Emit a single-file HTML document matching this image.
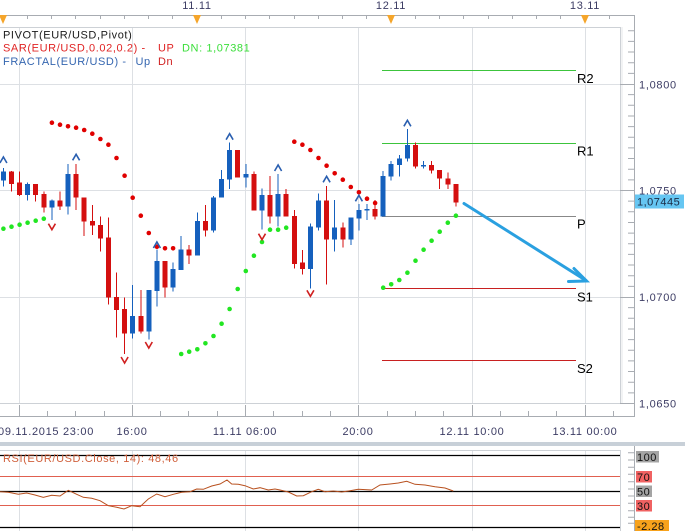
<!DOCTYPE html>
<html><head><meta charset="utf-8"><style>
html,body{margin:0;padding:0;background:#fff;}
svg{display:block;font-family:"Liberation Sans",Arial,sans-serif;}
</style></head><body>
<svg width="685" height="531" viewBox="0 0 685 531" xmlns="http://www.w3.org/2000/svg">
<rect width="685" height="531" fill="#fff"/>
<!-- top axis -->
<path d="M0 15.5H634" stroke="#a8acb2" stroke-width="1"/>
<path stroke="#a8acb2" stroke-width="1" d="M27.5 15V19M51.5 15V19M75.5 15V19M100.5 15V19M124.5 15V19M148.5 15V19M172.5 15V19M221.5 15V19M245.5 15V19M269.5 15V19M294.5 15V19M318.5 15V19M342.5 15V19M366.5 15V19M415.5 15V19M439.5 15V19M463.5 15V19M488.5 15V19M512.5 15V19M536.5 15V19M560.5 15V19M609.5 15V19"/>
<g fill="#f5a52a"><polygon points="-1,15 7,15 3,24"/><polygon points="193,15 201,15 197,24"/><polygon points="387,15 395,15 391,24"/><polygon points="581,15 589,15 585,24"/></g>
<g fill="#3c3c64" font-size="11" letter-spacing="0.7" text-anchor="middle"><text x="197" y="9">11.11</text><text x="391" y="9">12.11</text><text x="585" y="9">13.11</text></g>
<!-- main plot frame & grid -->
<g stroke="#dde0e4" stroke-width="1">
<path d="M19.5 27V404M132.5 27V404M245.5 27V404M358.5 27V404M472.5 27V404M585.5 27V404"/>
<path d="M0 84.5H620M0 190.5H620M0 297.5H620"/>
</g>
<path d="M0 27.5H620.5V403.5H0" fill="none" stroke="#cdd1d6" stroke-width="1"/>
<path d="M622 27V404" stroke="#e4e7ea" stroke-width="1"/>
<!-- right axis -->
<path d="M634.5 15V417" stroke="#a8acb2"/>
<path stroke="#a8acb2" d="M628 30.75H634M628 41.4H634M628 52.05H634M628 62.7H634M628 73.35H634M620 84.5H634M628 94.65H634M628 105.3H634M628 115.95H634M628 126.6H634M628 137.25H634M628 147.9H634M628 158.55H634M628 169.2H634M628 179.85H634M620 190.5H634M628 201.15H634M628 211.8H634M628 222.45H634M628 233.1H634M628 243.75H634M628 254.4H634M628 265.05H634M628 275.7H634M628 286.35H634M620 297.5H634M628 307.65H634M628 318.3H634M628 328.95H634M628 339.6H634M628 350.25H634M628 360.9H634M628 371.55H634M628 382.2H634M628 392.85H634M620 403.5H634"/>
<g fill="#3c3c64" font-size="11" letter-spacing="0.7">
<text x="639" y="88.5">1,0800</text><text x="639" y="194.5">1,0750</text><text x="639" y="301">1,0700</text><text x="639" y="407.5">1,0650</text>
</g>
<rect x="635" y="194.5" width="49" height="14" fill="#66c6f2"/>
<text x="637" y="205.5" font-size="11" letter-spacing="0.5" fill="#1a2a44">1,07445</text>
<!-- bottom axis -->
<path d="M0 416.5H634" stroke="#a8acb2"/>
<path stroke="#a8acb2" d="M19.5 405V417M132.5 405V417M245.5 405V417M358.5 405V417M472.5 405V417M585.5 405V417M47.5 411V417M75.5 411V417M104.5 411V417M160.5 411V417M188.5 411V417M217.5 411V417M273.5 411V417M302.5 411V417M330.5 411V417M387.5 411V417M415.5 411V417M443.5 411V417M500.5 411V417M528.5 411V417M556.5 411V417M613.5 411V417"/>
<g fill="#3c3c64" font-size="11" letter-spacing="0.7">
<text x="-2" y="435">09.11.2015 23:00</text>
<g text-anchor="middle"><text x="132" y="435">16:00</text><text x="245" y="435">11.11 06:00</text><text x="358" y="435">20:00</text><text x="472" y="435">12.11 10:00</text><text x="585" y="435">13.11 00:00</text></g>
</g>
<rect x="0" y="442" width="685" height="4" fill="#c8d0d8"/>
<!-- pivot lines -->
<g stroke-width="1">
<path d="M382 70.5H576M382 143.5H576" stroke="#3cc43c"/>
<path d="M382 216.5H576" stroke="#888"/>
<path d="M382 288.5H576M382 360.5H576" stroke="#c82020"/>
</g>
<g fill="#000" font-size="13"><text x="577" y="83">R2</text><text x="577" y="155.5">R1</text><text x="577" y="228.5">P</text><text x="577" y="301.5">S1</text><text x="577" y="373">S2</text></g>
<!-- candles -->
<g fill="#1560bd" shape-rendering="crispEdges">
<rect x="2.9" y="168" width="1" height="18.7"/><rect x="0.9" y="171.7" width="5" height="9"/>
<rect x="27.1" y="182.7" width="1" height="18"/><rect x="25.1" y="184" width="5" height="11"/>
<rect x="51.4" y="199.3" width="1" height="20.7"/><rect x="49.4" y="200.7" width="5" height="7"/>
<rect x="67.5" y="164" width="1" height="50.3"/><rect x="65.5" y="174" width="5" height="32.7"/>
<rect x="132.2" y="285" width="1" height="53.7"/><rect x="130.2" y="316" width="5" height="17.7"/>
<rect x="148.3" y="290" width="1" height="49.3"/><rect x="146.3" y="290" width="5" height="41.7"/>
<rect x="156.4" y="249.3" width="1" height="57.4"/><rect x="154.4" y="261" width="5" height="30"/>
<rect x="172.6" y="262.7" width="1" height="29"/><rect x="170.6" y="269" width="5" height="18.7"/>
<rect x="180.7" y="236" width="1" height="34"/><rect x="178.7" y="249.3" width="5" height="20.7"/>
<rect x="196.8" y="212.7" width="1" height="43"/><rect x="194.8" y="221" width="5" height="34.7"/>
<rect x="213" y="196" width="1" height="36.7"/><rect x="211" y="197.3" width="5" height="33.4"/>
<rect x="221.1" y="170" width="1" height="27.3"/><rect x="219.1" y="179" width="5" height="18.3"/>
<rect x="229.1" y="142.7" width="1" height="46.3"/><rect x="227.1" y="150" width="5" height="29.3"/>
<rect x="245.3" y="164" width="1" height="23.3"/><rect x="243.3" y="174" width="5" height="3.7"/>
<rect x="261.5" y="188.3" width="1" height="41"/><rect x="259.5" y="195" width="5" height="15.7"/>
<rect x="277.6" y="174" width="1" height="52.7"/><rect x="275.6" y="194" width="5" height="22.7"/>
<rect x="309.9" y="223.3" width="1" height="65"/><rect x="307.9" y="226.7" width="5" height="42.3"/>
<rect x="318" y="193.3" width="1" height="37.4"/><rect x="316" y="200.7" width="5" height="26.6"/>
<rect x="334.2" y="200" width="1" height="51.7"/><rect x="332.2" y="227.7" width="5" height="11.6"/>
<rect x="350.3" y="217.7" width="1" height="27.3"/><rect x="348.3" y="217.7" width="5" height="21.6"/>
<rect x="358.4" y="204" width="1" height="26.7"/><rect x="356.4" y="210" width="5" height="8.3"/>
<rect x="366.5" y="204" width="1" height="16"/><rect x="364.5" y="209" width="5" height="1.7"/>
<rect x="382.7" y="171" width="1" height="45.7"/><rect x="380.7" y="176" width="5" height="40.7"/>
<rect x="390.7" y="161" width="1" height="19.7"/><rect x="388.7" y="164" width="5" height="12.7"/>
<rect x="398.8" y="155" width="1" height="21.7"/><rect x="396.8" y="158.3" width="5" height="6.7"/>
<rect x="406.9" y="129" width="1" height="32.7"/><rect x="404.9" y="145" width="5" height="13.3"/>
<rect x="423.1" y="161" width="1" height="7.3"/><rect x="421.1" y="165" width="5" height="1.7"/>
</g>
<g fill="#d40f0f" shape-rendering="crispEdges">
<rect x="11" y="171" width="1" height="20.7"/><rect x="9" y="171.7" width="5" height="12.3"/>
<rect x="19.1" y="171.7" width="1" height="24.3"/><rect x="17.1" y="182.7" width="5" height="12.3"/>
<rect x="35.2" y="184" width="1" height="17.7"/><rect x="33.2" y="184" width="5" height="11"/>
<rect x="43.3" y="191.7" width="1" height="21"/><rect x="41.3" y="194" width="5" height="13.7"/>
<rect x="59.5" y="191.7" width="1" height="18.3"/><rect x="57.5" y="200.7" width="5" height="6"/>
<rect x="75.6" y="164" width="1" height="46"/><rect x="73.6" y="174" width="5" height="23.7"/>
<rect x="83.7" y="197.3" width="1" height="38.7"/><rect x="81.7" y="197.3" width="5" height="24.4"/>
<rect x="91.8" y="205" width="1" height="30"/><rect x="89.8" y="221" width="5" height="4.7"/>
<rect x="99.9" y="216.7" width="1" height="35"/><rect x="97.9" y="225" width="5" height="13.3"/>
<rect x="107.9" y="217.3" width="1" height="87"/><rect x="105.9" y="237.7" width="5" height="60"/>
<rect x="116" y="272.7" width="1" height="65"/><rect x="114" y="297" width="5" height="13"/>
<rect x="124.1" y="297.7" width="1" height="56.3"/><rect x="122.1" y="309" width="5" height="24.7"/>
<rect x="140.3" y="290" width="1" height="43.3"/><rect x="138.3" y="316" width="5" height="15.7"/>
<rect x="164.5" y="261" width="1" height="36.7"/><rect x="162.5" y="261" width="5" height="26.7"/>
<rect x="188.7" y="245" width="1" height="19"/><rect x="186.7" y="249.3" width="5" height="6.4"/>
<rect x="204.9" y="205" width="1" height="31.7"/><rect x="202.9" y="221" width="5" height="9.7"/>
<rect x="237.2" y="150" width="1" height="27.7"/><rect x="235.2" y="150" width="5" height="27.7"/>
<rect x="253.4" y="171.7" width="1" height="39"/><rect x="251.4" y="174" width="5" height="36.7"/>
<rect x="269.5" y="176" width="1" height="47.3"/><rect x="267.5" y="195" width="5" height="21.7"/>
<rect x="285.7" y="189" width="1" height="27.7"/><rect x="283.7" y="194" width="5" height="22.7"/>
<rect x="293.8" y="210" width="1" height="58.3"/><rect x="291.8" y="216" width="5" height="48"/>
<rect x="301.9" y="250" width="1" height="24.3"/><rect x="299.9" y="262.7" width="5" height="6.3"/>
<rect x="326.1" y="186" width="1" height="98.3"/><rect x="324.1" y="200.7" width="5" height="38.6"/>
<rect x="342.3" y="222.3" width="1" height="25"/><rect x="340.3" y="227.7" width="5" height="11.6"/>
<rect x="374.6" y="200" width="1" height="19.3"/><rect x="372.6" y="209" width="5" height="7.7"/>
<rect x="415" y="142.7" width="1" height="25.6"/><rect x="413" y="145" width="5" height="21.7"/>
<rect x="431.1" y="161" width="1" height="12.3"/><rect x="429.1" y="165" width="5" height="5.7"/>
<rect x="439.2" y="170" width="1" height="19"/><rect x="437.2" y="170" width="5" height="8.3"/>
<rect x="447.3" y="172.3" width="1" height="16.7"/><rect x="445.3" y="178.3" width="5" height="6.4"/>
<rect x="455.4" y="184" width="1" height="22.7"/><rect x="453.4" y="184" width="5" height="18.7"/>
</g>
<!-- SAR -->
<g fill="#e00000">
<circle cx="51.9" cy="122.7" r="2.3"/><circle cx="60" cy="124.7" r="2.3"/><circle cx="68" cy="126.3" r="2.3"/><circle cx="76.1" cy="127.7" r="2.3"/><circle cx="84.2" cy="130" r="2.3"/><circle cx="92.3" cy="133.7" r="2.3"/><circle cx="100.4" cy="139" r="2.3"/><circle cx="108.4" cy="144.7" r="2.3"/><circle cx="116.5" cy="158" r="2.3"/><circle cx="124.6" cy="175.7" r="2.3"/><circle cx="132.7" cy="197.7" r="2.3"/><circle cx="140.8" cy="215.7" r="2.3"/><circle cx="148.8" cy="233" r="2.3"/><circle cx="156.9" cy="246.7" r="2.3"/><circle cx="165" cy="248.3" r="2.3"/><circle cx="173.1" cy="248.3" r="2.3"/>
<circle cx="294.3" cy="141.7" r="2.3"/><circle cx="302.4" cy="144.7" r="2.3"/><circle cx="310.4" cy="150" r="2.3"/><circle cx="318.5" cy="158" r="2.3"/><circle cx="326.6" cy="165.7" r="2.3"/><circle cx="334.7" cy="173.3" r="2.3"/><circle cx="342.8" cy="179.7" r="2.3"/><circle cx="350.8" cy="187" r="2.3"/><circle cx="358.9" cy="192.3" r="2.3"/><circle cx="367" cy="198.7" r="2.3"/><circle cx="375.1" cy="203" r="2.3"/>
</g>
<g fill="#22e622">
<circle cx="3.4" cy="228.7" r="2.3"/><circle cx="11.5" cy="226.7" r="2.3"/><circle cx="19.6" cy="224.7" r="2.3"/><circle cx="27.6" cy="222.7" r="2.3"/><circle cx="35.7" cy="220.7" r="2.3"/><circle cx="43.8" cy="218.7" r="2.3"/>
<circle cx="181.2" cy="354" r="2.3"/><circle cx="189.2" cy="351.7" r="2.3"/><circle cx="197.3" cy="349.3" r="2.3"/><circle cx="205.4" cy="343.3" r="2.3"/><circle cx="213.5" cy="336" r="2.3"/><circle cx="221.6" cy="323.7" r="2.3"/><circle cx="229.6" cy="309" r="2.3"/><circle cx="237.7" cy="289" r="2.3"/><circle cx="245.8" cy="271" r="2.3"/><circle cx="253.9" cy="255.7" r="2.3"/><circle cx="262" cy="242" r="2.3"/><circle cx="270" cy="229.7" r="2.3"/><circle cx="278.1" cy="229.7" r="2.3"/><circle cx="286.2" cy="227.7" r="2.3"/>
<circle cx="383.2" cy="287.7" r="2.3"/><circle cx="391.2" cy="284.3" r="2.3"/><circle cx="399.3" cy="280" r="2.3"/><circle cx="407.4" cy="272.7" r="2.3"/><circle cx="415.5" cy="260.7" r="2.3"/><circle cx="423.6" cy="249.7" r="2.3"/><circle cx="431.6" cy="240.7" r="2.3"/><circle cx="439.7" cy="231.7" r="2.3"/><circle cx="447.8" cy="222.7" r="2.3"/><circle cx="455.9" cy="215.7" r="2.3"/>
</g>
<!-- fractals -->
<g fill="none" stroke-width="1.6">
<g stroke="#2a5fb0">
<path transform="translate(3.4,160)" d="M-3.5 3L0 -3L3.5 3"/>
<path transform="translate(76.1,157.3)" d="M-3.5 3L0 -3L3.5 3"/>
<path transform="translate(156.9,245)" d="M-3.5 3L0 -3L3.5 3"/>
<path transform="translate(229.6,136.7)" d="M-3.5 3L0 -3L3.5 3"/>
<path transform="translate(278.1,168)" d="M-3.5 3L0 -3L3.5 3"/>
<path transform="translate(326.6,179.3)" d="M-3.5 3L0 -3L3.5 3"/>
<path transform="translate(358.9,198.3)" d="M-3.5 3L0 -3L3.5 3"/>
<path transform="translate(407.4,123.3)" d="M-3.5 3L0 -3L3.5 3"/>
</g>
<g stroke="#d02020">
<path transform="translate(51.9,226.7)" d="M-3.5 -3L0 3L3.5 -3"/>
<path transform="translate(124.6,360)" d="M-3.5 -3L0 3L3.5 -3"/>
<path transform="translate(148.8,345)" d="M-3.5 -3L0 3L3.5 -3"/>
<path transform="translate(262,236.7)" d="M-3.5 -3L0 3L3.5 -3"/>
<path transform="translate(310.4,293.3)" d="M-3.5 -3L0 3L3.5 -3"/>
</g>
</g>
<!-- arrow -->
<g stroke="#2aa0e0" stroke-width="3" stroke-linecap="round" fill="none">
<path d="M464 203.5L586 280.5"/>
<path d="M574 268.5L586.5 281L568.5 281.5"/>
</g>
<!-- legend -->
<g font-size="11" letter-spacing="0.6">
<text x="3" y="38.3" fill="#1a1a1a">PIVOT(EUR/USD,Pivot)</text>
<text x="3" y="51.7" fill="#e02424">SAR(EUR/USD,0.02,0.2) -</text>
<text x="158" y="51.7" fill="#e02424">UP</text>
<text x="182" y="51.7" fill="#3ade3a">DN: 1,07381</text>
<text x="3" y="65" fill="#3566b0">FRACTAL(EUR/USD) -</text>
<text x="135.5" y="65" fill="#3566b0">Up</text>
<text x="158" y="65" fill="#d02020">Dn</text>
</g>
<!-- RSI panel -->
<g stroke="#dde0e4"><path d="M19.5 450V531M132.5 450V531M245.5 450V531M358.5 450V531M472.5 450V531M585.5 450V531"/></g>
<path d="M0 450.5H620.5V531" fill="none" stroke="#cdd1d6"/>
<path d="M0 455.5H620M0 491.5H620M0 527.5H620" stroke="#000" stroke-width="1.3"/>
<path d="M0 476.5H620M0 505.5H620" stroke="#e06050" stroke-width="1"/>
<path d="M634.5 446V531" stroke="#a8acb2"/>
<path stroke="#a8acb2" d="M628 452.7H634M628 460H634M628 467.3H634M628 474.3H634M628 481.7H634M628 489H634M628 496H634M628 503.3H634M628 510.7H634M628 517.3H634M628 523.3H634"/>
<polyline fill="none" stroke="#b8501e" stroke-width="1" points="0,491.7 8.3,492.3 18.3,494.3 26.7,493 35,495 43.3,497.3 51.7,495.3 60,496 68.3,490.3 76.7,494.3 83.3,497.3 91.7,498.3 100,500.7 108.3,505.7 116.7,507.3 124,509 131.7,505.7 140,506.7 148.3,499 156.7,494 165,496.7 173.3,494.3 181.7,492.3 190,491.7 196.7,489 203.3,489.3 211.7,486 220,484 227,480 231.7,484 238.3,484.3 245,485.7 253.3,489 260,487.7 268.3,490 275,489 280,490 288.3,492 296.7,496 303.3,495.7 311.7,491.7 318.3,489.3 325,491.7 333.3,491 341.7,492 350,490.7 358.3,489.3 371.7,490 380,485 390,484 398.3,483 406.7,481.3 415,484.3 425,485 435,486.7 445,488 453.3,491"/>
<text x="3" y="462" font-size="11" letter-spacing="0.6" fill="#d0603c">RSI(EUR/USD.Close, 14): 48,46</text>
<rect x="636" y="451" width="23" height="11.5" fill="#a4a4a4"/>
<rect x="636" y="471" width="16" height="11.5" fill="#f06262"/>
<rect x="636" y="485.5" width="16" height="11.5" fill="#a4a4a4"/>
<rect x="636" y="500" width="16" height="11.5" fill="#f06262"/>
<rect x="635" y="520" width="34" height="11" fill="#f7a21c"/>
<g font-size="11" letter-spacing="0.5" fill="#111">
<text x="637" y="461">100</text><text x="637" y="481">70</text><text x="637" y="495.5">50</text><text x="637" y="510">30</text><text x="637" y="530">-2.28</text>
</g>
</svg>
</body></html>
